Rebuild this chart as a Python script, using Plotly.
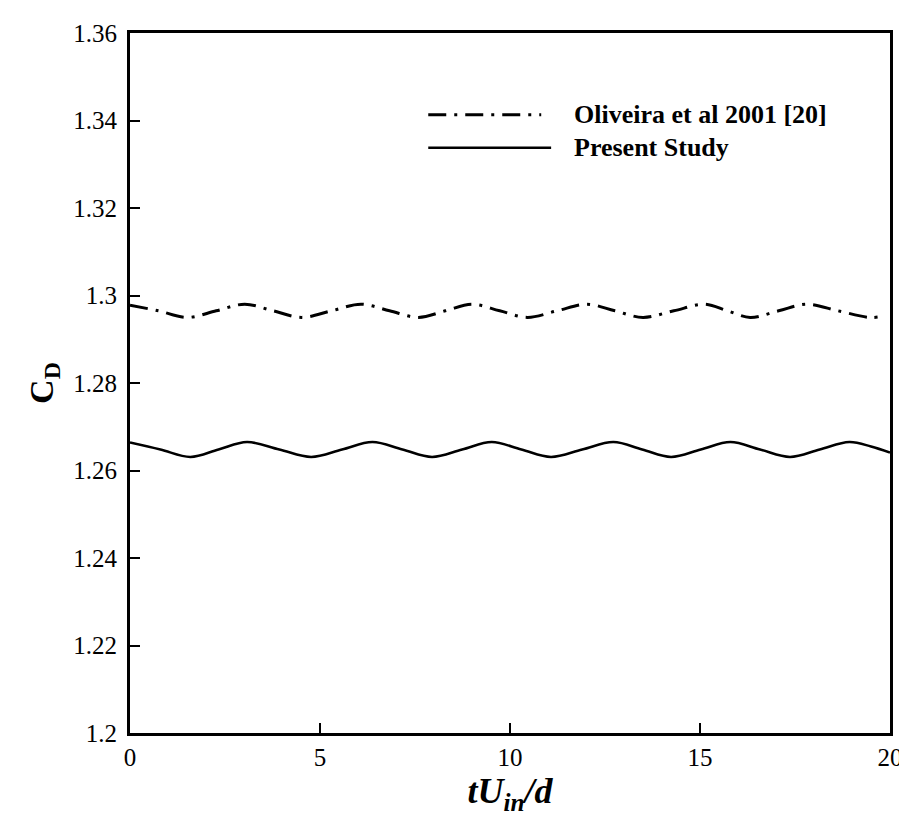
import plotly.graph_objects as go

# ---- data ----
t_oliveira = [0.0, 0.75, 1.51, 2.27, 3.02, 3.77, 4.51, 5.30, 6.08, 6.83, 7.59, 8.30, 9.00,
              9.73, 10.46, 11.24, 12.02, 12.76, 13.50, 14.31, 15.12, 15.72, 16.32, 17.07,
              17.81, 18.63, 19.45, 19.70]
cd_oliveira = [1.2978, 1.2965, 1.2950, 1.2965, 1.2980, 1.2965, 1.2950, 1.2965, 1.2980, 1.2965,
               1.2950, 1.2965, 1.2980, 1.2965, 1.2950, 1.2965, 1.2980, 1.2965, 1.2950, 1.2965,
               1.2980, 1.2965, 1.2950, 1.2965, 1.2980, 1.2965, 1.2950, 1.2951]

t_present = [0.0, 0.80, 1.59, 2.33, 3.08, 3.93, 4.77, 5.58, 6.38, 7.17, 7.95, 8.74, 9.52,
             10.30, 11.08, 11.90, 12.72, 13.48, 14.24, 15.02, 15.80, 16.58, 17.37, 18.15,
             18.93, 19.50, 20.0]
cd_present = [1.2664, 1.2648, 1.2631, 1.2648, 1.2665, 1.2648, 1.2631, 1.2648, 1.2665, 1.2648,
              1.2631, 1.2648, 1.2665, 1.2648, 1.2631, 1.2648, 1.2665, 1.2648, 1.2631, 1.2648,
              1.2665, 1.2648, 1.2631, 1.2648, 1.2665, 1.2655, 1.2641]

series_names = ["Oliveira et al 2001 [20]", "Present Study"]
x_ticks = [0, 5, 10, 15, 20]
y_ticks = [1.2, 1.22, 1.24, 1.26, 1.28, 1.3, 1.32, 1.34, 1.36]
y_tick_labels = ["1.2", "1.22", "1.24", "1.26", "1.28", "1.3", "1.32", "1.34", "1.36"]

FONT = "Liberation Serif, Times New Roman, serif"
DASHDOT = "18px,8px,3px,8px"

fig = go.Figure()
fig.add_trace(go.Scatter(
    x=t_oliveira, y=cd_oliveira, mode="lines", name=series_names[0],
    line=dict(color="black", width=3, dash=DASHDOT, shape="spline"),
    showlegend=False))
fig.add_trace(go.Scatter(
    x=t_present, y=cd_present, mode="lines", name=series_names[1],
    line=dict(color="black", width=2.5, shape="spline"),
    showlegend=False))

# legend drawn manually (long line samples like the original)
W, H = 907, 816
ml, mr, mt, mb = 122, 18, 23, 91
pw, ph = W - ml - mr, H - mt - mb


def px(xp):
    return (xp - ml) / pw


def py(yp):
    return (H - mb - yp) / ph


legend_rows = [(105, 537, DASHDOT, 3), (138, 547, "solid", 2.5)]
for (yy, xend, dash, wd), name in zip(legend_rows, series_names):
    fig.add_shape(type="line", xref="paper", yref="paper",
                  x0=px(423), x1=px(xend), y0=py(yy), y1=py(yy),
                  line=dict(color="black", width=wd, dash=dash))
    fig.add_annotation(xref="paper", yref="paper", x=px(568), y=py(yy),
                       xanchor="left", yanchor="middle", showarrow=False,
                       text="<b>%s</b>" % name,
                       font=dict(family=FONT, size=26, color="black"))

axis_common = dict(
    showline=True, linecolor="black", linewidth=3, mirror=True,
    ticks="inside", ticklen=10, tickwidth=2, tickcolor="black",
    showgrid=False, zeroline=False,
    tickfont=dict(family=FONT, size=25, color="black"),
)

fig.update_layout(
    width=W, height=H,
    margin=dict(l=ml, r=mr, t=mt, b=mb),
    plot_bgcolor="white", paper_bgcolor="white",
    xaxis=dict(range=[0, 20], tickvals=x_ticks, ticktext=[str(v) for v in x_ticks],
               title=dict(text="<b><i>tU<sub>in</sub>/d</i></b>",
                          font=dict(family=FONT, size=36, color="black"), standoff=8),
               **axis_common),
    yaxis=dict(range=[1.2, 1.36], tickvals=y_ticks, ticktext=y_tick_labels,
               ticklabelstandoff=5,
               title=dict(text="<b>C<sub>D</sub></b>",
                          font=dict(family=FONT, size=34, color="black"), standoff=10),
               **axis_common),
)

fig.write_html("out.html")
